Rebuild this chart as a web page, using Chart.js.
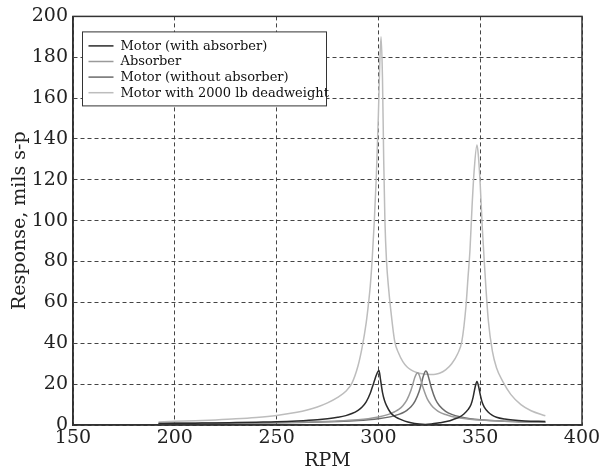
<!DOCTYPE html>
<html><head><meta charset="utf-8">
<script src="https://cdn.jsdelivr.net/npm/chart.js@4/dist/chart.umd.min.js"></script>
<style>html,body{margin:0;padding:0;background:#fff}#wrap{width:606px;height:472px}</style>
</head><body><div id="wrap"><canvas id="c" width="606" height="472"></canvas></div>
<script>
// Series labels
const seriesLabels = ['Motor (with absorber)', 'Absorber', 'Motor (without absorber)', 'Motor with 2000 lb deadweight'];
// Axis ticks
const xTicks = [150, 200, 250, 300, 350, 400];
const yTicks = [0, 20, 40, 60, 80, 100, 120, 140, 160, 180, 200];

// Motor (with absorber)
const motorAbsRpm = [192,200,210,220,230,240,250,260,270,275,280,284,287,290,292,294,296,297,298,299,300.3,301,302,303,304,306,308,310,313,316,320,323,326,330,334,337,340,342,344,345.5,346.5,347.5,348.4,349.3,350,351,352,354,356,358,362,366,372,382];
const motorAbsResp = [0.7,0.8,0.9,1.0,1.2,1.4,1.6,2.0,2.6,3.1,3.8,4.6,5.6,7.2,8.8,11.3,15.5,18.5,21.5,24.5,26.7,22.5,16,12,9.5,6,4.2,3.1,1.9,1.1,0.5,0.3,0.5,1.1,1.8,2.8,4.0,5.4,7.5,10,13.5,18.5,21.3,18.5,15,11,8.8,6.2,4.7,3.8,2.9,2.4,2.0,1.7];

// Absorber
const absorberRpm = [192,200,210,220,230,240,250,260,270,280,290,295,300,305,308,310,312,314,316,317,318,319.2,320,321,322,324,326,328,330,333,336,340,345,350,360,370,382];
const absorberResp = [0.75,0.8,0.85,0.9,1.0,1.1,1.2,1.4,1.65,2.0,2.6,3.1,3.9,5.2,6.5,7.6,9.4,12.3,17,20.3,23.6,25.6,24.6,21.4,18.1,12.8,9.7,7.7,6.3,5.1,4.2,3.4,2.8,2.4,1.9,1.6,1.4];

// Motor (without absorber)
const motorNoAbsRpm = [192,200,210,220,230,240,250,260,270,280,290,295,300,305,308,310,312,314,316,318,320,321,322,323.3,324,325,326,328,330,333,336,340,345,350,360,370,382];
const motorNoAbsResp = [0.7,0.72,0.76,0.82,0.9,0.98,1.1,1.25,1.45,1.75,2.2,2.55,3.05,3.85,4.6,5.2,6.0,7.2,8.9,11.7,16.4,19.8,23.7,26.4,25.5,22,18.2,12.6,9.4,6.7,5.2,4.0,3.1,2.55,1.9,1.6,1.4];

// Motor with 2000 lb deadweight
const deadweightRpm = [192,200,210,220,230,240,250,260,265,270,275,280,284,287,290,292,294,295.2,296,297,298,299,300,300.7,301.3,302,302.6,303.2,304,305,306,308,310,312,314,316,318,320,322,324,326,328,330,333,336,339,341,343,344,345,346,347,348.4,349,350,351,352,354,356,358,361,365,370,375,382];
const deadweightResp = [1.5,1.8,2.1,2.5,3.0,3.7,4.7,6.2,7.3,8.8,10.8,13.5,16.5,20.5,29,38,50,60,68,82,100,122,152,178,190,170,130,100,80,67,57,41,35,31,28.5,27,26,25.3,25,24.8,24.7,24.8,25.3,27,30,35,41,58,72,86,107,124,137,133,118,97,80,51,36,28,21.5,15,10,7,4.5];

const colors = ['#2b2b2b', '#9a9a9a', '#6b6b6b', '#bdbdbd'];
const FONT = '"DejaVu Serif", "Liberation Serif", serif';

function pts(xs, ys) { return xs.map((x, i) => ({ x: x, y: ys[i] })); }

const sets = [
  [motorAbsRpm, motorAbsResp],
  [absorberRpm, absorberResp],
  [motorNoAbsRpm, motorNoAbsResp],
  [deadweightRpm, deadweightResp]
];

const datasets = sets.map((s, i) => ({
  label: seriesLabels[i],
  data: pts(s[0], s[1]),
  borderColor: colors[i],
  backgroundColor: colors[i],
  borderWidth: 1.5,
  pointRadius: 0,
  fill: false,
  cubicInterpolationMode: 'monotone'
}));

const framePlugin = {
  id: 'frame',
  afterDatasetsDraw(chart) {
    const { ctx, chartArea: a } = chart;
    ctx.save();
    ctx.strokeStyle = '#333';
    ctx.lineWidth = 1.5;
    ctx.setLineDash([]);
    ctx.strokeRect(a.left, a.top, a.right - a.left, a.bottom - a.top);
    ctx.restore();
  }
};

const legendPlugin = {
  id: 'boxLegend',
  afterDraw(chart) {
    const { ctx, chartArea: a } = chart;
    const x0 = a.left + 9.5, y0 = a.top + 15.5, w = 244, h = 74;
    ctx.save();
    ctx.fillStyle = '#fff';
    ctx.fillRect(x0, y0, w, h);
    ctx.strokeStyle = '#333';
    ctx.lineWidth = 1;
    ctx.strokeRect(x0, y0, w, h);
    chart.data.datasets.forEach((ds, i) => {
      const y = y0 + 14 + i * 15.6;
      ctx.strokeStyle = ds.borderColor;
      ctx.lineWidth = 1.5;
      ctx.beginPath();
      ctx.moveTo(x0 + 6, y);
      ctx.lineTo(x0 + 31, y);
      ctx.stroke();
      ctx.fillStyle = '#111';
      ctx.font = '13px ' + FONT;
      ctx.textBaseline = 'middle';
      ctx.textAlign = 'left';
      ctx.fillText(ds.label, x0 + 38, y + 0.5);
    });
    ctx.restore();
  }
};

new Chart(document.getElementById('c'), {
  type: 'line',
  data: { datasets: datasets },
  plugins: [framePlugin, legendPlugin],
  options: {
    responsive: false,
    animation: false,
    devicePixelRatio: 1,
    layout: { padding: { top: 16, right: 24, left: 0, bottom: 0 } },
    plugins: { legend: { display: false }, tooltip: { enabled: false } },
    scales: {
      x: {
        type: 'linear',
        min: xTicks[0],
        max: xTicks[xTicks.length - 1],
        afterBuildTicks(scale) { scale.ticks = xTicks.map(v => ({ value: v })); },
        afterFit(scale) { scale.height = 47; },
        ticks: { font: { family: FONT, size: 19 }, color: '#222', padding: 2, maxRotation: 0 },
        grid: { color: '#444', lineWidth: 1, drawTicks: false },
        border: { display: true, color: '#333', width: 1.5, dash: [4, 3] },
        title: { display: true, text: 'RPM', font: { family: FONT, size: 19 }, color: '#222', padding: { top: 0, bottom: 0 } }
      },
      y: {
        type: 'linear',
        min: yTicks[0],
        max: yTicks[yTicks.length - 1],
        afterBuildTicks(scale) { scale.ticks = yTicks.map(v => ({ value: v })); },
        afterFit(scale) { scale.width = 73; },
        ticks: { font: { family: FONT, size: 19 }, color: '#222', padding: 5 },
        grid: { color: '#444', lineWidth: 1, drawTicks: false },
        border: { display: true, color: '#333', width: 1.5, dash: [4, 3] },
        title: { display: true, text: 'Response, mils s-p', font: { family: FONT, size: 19 }, color: '#222', padding: { top: 9, bottom: 0 } }
      }
    }
  }
});
</script>
</body></html>
